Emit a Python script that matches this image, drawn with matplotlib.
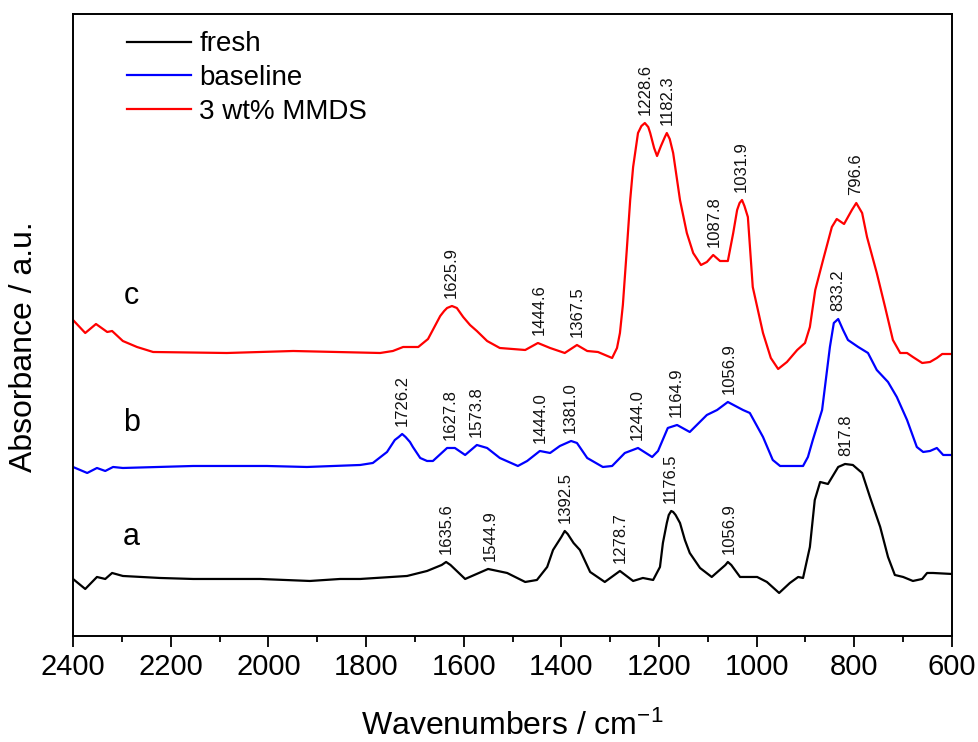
import matplotlib
matplotlib.use("Agg")
import matplotlib.pyplot as plt
import numpy as np
from matplotlib.ticker import MultipleLocator

plt.rcParams['font.family'] = ['Liberation Sans', 'DejaVu Sans']
plt.rcParams['mathtext.fontset'] = 'custom'
plt.rcParams['mathtext.rm'] = 'Liberation Sans'
plt.rcParams['mathtext.default'] = 'regular'

# spectra (wavenumber in cm-1, absorbance in a.u. incl. offset)
fresh_wn = [2400, 2375, 2351, 2334, 2320, 2298, 2222, 2154, 2085, 2017, 1915, 1853, 1812, 1716, 1675,
            1645, 1636, 1627, 1597, 1550, 1511, 1474, 1450, 1429, 1417, 1400, 1393, 1387, 1375, 1362,
            1341, 1311, 1280, 1253, 1233, 1212, 1198, 1192, 1184, 1180, 1175, 1171, 1166, 1157, 1147,
            1137, 1116, 1092, 1064, 1059, 1052, 1034, 999, 979, 954, 932, 915, 905, 891, 881,
            870, 854, 833, 819, 803, 784, 768, 747, 731, 717, 700, 680, 661, 651, 639, 600]
fresh_abs = [0.57, 0.47, 0.59, 0.57, 0.63, 0.60, 0.58, 0.57, 0.57, 0.57, 0.55, 0.57, 0.57, 0.60, 0.65,
             0.71, 0.74, 0.71, 0.57, 0.67, 0.63, 0.54, 0.56, 0.69, 0.86, 0.99, 1.05, 1.02, 0.93, 0.86,
             0.64, 0.54, 0.65, 0.55, 0.58, 0.56, 0.69, 0.93, 1.13, 1.21, 1.25, 1.24, 1.21, 1.13, 0.96,
             0.83, 0.68, 0.59, 0.71, 0.74, 0.71, 0.59, 0.59, 0.54, 0.43, 0.53, 0.59, 0.58, 0.89, 1.36,
             1.54, 1.52, 1.69, 1.72, 1.71, 1.63, 1.39, 1.09, 0.79, 0.61, 0.59, 0.55, 0.57, 0.63, 0.63, 0.62]

baseline_wn = [2400, 2371, 2351, 2334, 2318, 2298, 2154, 2003, 1921, 1812, 1786, 1757, 1741, 1733, 1726,
               1719, 1710, 1704, 1689, 1675, 1663, 1634, 1618, 1597, 1573, 1552, 1526, 1489, 1470, 1444,
               1423, 1403, 1380, 1368, 1347, 1315, 1296, 1270, 1243, 1214, 1202, 1182, 1163, 1137, 1102,
               1081, 1059, 1028, 1014, 987, 967, 952, 905, 895, 885, 866, 850, 842, 833, 823,
               813, 792, 772, 754, 731, 713, 692, 672, 659, 645, 631, 618, 600]
baseline_abs = [1.69, 1.63, 1.68, 1.65, 1.69, 1.68, 1.70, 1.70, 1.69, 1.71, 1.73, 1.84, 1.96, 1.99, 2.02,
                1.99, 1.94, 1.89, 1.78, 1.75, 1.75, 1.88, 1.88, 1.81, 1.91, 1.88, 1.78, 1.70, 1.75, 1.85,
                1.83, 1.90, 1.95, 1.93, 1.78, 1.69, 1.70, 1.83, 1.88, 1.79, 1.85, 2.08, 2.11, 2.04, 2.21,
                2.26, 2.34, 2.26, 2.23, 1.99, 1.76, 1.70, 1.70, 1.79, 1.96, 2.26, 2.89, 3.13, 3.17, 3.06,
                2.96, 2.89, 2.83, 2.66, 2.54, 2.39, 2.16, 1.89, 1.84, 1.85, 1.88, 1.81, 1.81]

mmds_wn = [2400, 2375, 2353, 2330, 2320, 2298, 2269, 2236, 2085, 1949, 1771, 1745, 1724, 1693, 1673,
           1648, 1640, 1634, 1624, 1614, 1601, 1587, 1573, 1552, 1526, 1474, 1448, 1423, 1393, 1368,
           1347, 1325, 1296, 1286, 1280, 1274, 1266, 1259, 1253, 1243, 1236, 1229, 1222, 1218, 1210,
           1204, 1196, 1188, 1184, 1178, 1171, 1157, 1143, 1130, 1114, 1102, 1089, 1075, 1059, 1048,
           1040, 1035, 1030, 1025, 1018, 1008, 987, 971, 956, 938, 917, 901, 891, 880, 864,
           846, 836, 821, 805, 796, 784, 774, 754, 737, 721, 706, 692, 680, 661, 645,
           631, 620, 600]
mmds_abs = [3.16, 3.03, 3.12, 3.04, 3.05, 2.95, 2.89, 2.84, 2.83, 2.85, 2.83, 2.85, 2.89, 2.89, 2.97,
            3.20, 3.25, 3.28, 3.30, 3.28, 3.19, 3.11, 3.05, 2.95, 2.88, 2.86, 2.93, 2.88, 2.83, 2.91,
            2.85, 2.84, 2.78, 2.88, 3.03, 3.31, 3.86, 4.36, 4.69, 5.03, 5.10, 5.13, 5.09, 5.03, 4.88,
            4.80, 4.90, 4.99, 5.03, 4.97, 4.83, 4.36, 4.03, 3.83, 3.71, 3.74, 3.81, 3.75, 3.75, 4.03,
            4.26, 4.33, 4.36, 4.30, 4.19, 3.49, 3.03, 2.78, 2.67, 2.74, 2.86, 2.93, 3.09, 3.46, 3.76,
            4.09, 4.17, 4.12, 4.26, 4.33, 4.23, 3.99, 3.63, 3.29, 2.96, 2.83, 2.83, 2.79, 2.73, 2.74,
            2.78, 2.82, 2.82]

# labelled peak positions
fresh_peaks = [1635.6, 1544.9, 1392.5, 1278.7, 1176.5, 1056.9, 817.8]
baseline_peaks = [1726.2, 1627.8, 1573.8, 1444.0, 1381.0, 1244.0, 1164.9, 1056.9, 833.2]
mmds_peaks = [1625.9, 1444.6, 1367.5, 1228.6, 1182.3, 1087.8, 1031.9, 796.6]

series = [
    ("fresh", "black", "a", fresh_wn, fresh_abs, fresh_peaks),
    ("baseline", "#0000ff", "b", baseline_wn, baseline_abs, baseline_peaks),
    ("3 wt% MMDS", "#ff0000", "c", mmds_wn, mmds_abs, mmds_peaks),
]

fig = plt.figure(figsize=(9.79, 7.42), dpi=100)
ax = fig.add_axes([0.0746, 0.1429, 0.8978, 0.8382])

letter_y = {"a": 0.99, "b": 2.13, "c": 3.40}

for name, color, letter, wn, ab, peaks in series:
    wn = np.array(wn)
    ab = np.array(ab)
    ax.plot(wn, ab, color=color, lw=1.6, label=name)
    for p in peaks:
        near = ab[np.abs(wn - p) <= 12]
        top = near.max() if len(near) else np.interp(p, wn[::-1], ab[::-1])
        ax.text(p, top + 0.08, f"{p:.1f}", rotation=90, ha="center", va="bottom",
                fontsize=12, color="#111111")
    ax.text(2281, letter_y[letter], letter, fontsize=22, ha="center", va="center")

ax.set_xlim(2400, 600)
ax.set_ylim(0, 6.22)
ax.xaxis.set_major_locator(MultipleLocator(200))
ax.xaxis.set_minor_locator(MultipleLocator(100))
ax.set_yticks([])
ax.tick_params(axis="x", which="major", direction="out", length=8, width=1.3, labelsize=21, pad=4)
ax.tick_params(axis="x", which="minor", direction="out", length=4.5, width=1.3)
for s in ax.spines.values():
    s.set_linewidth(1.4)

ax.set_xlabel("Wavenumbers / cm$^{-1}$", fontsize=23, labelpad=22)
ax.set_ylabel("Absorbance / a.u.", fontsize=23)
ax.yaxis.set_label_coords(-0.039, 0.465)

ax.legend(loc="upper left", bbox_to_anchor=(0.0614, 0.972), frameon=False, fontsize=20,
          handlelength=2.3, handletextpad=0.3, labelspacing=0.28, borderpad=0, borderaxespad=0)

fig.savefig("out.png", dpi=100)
